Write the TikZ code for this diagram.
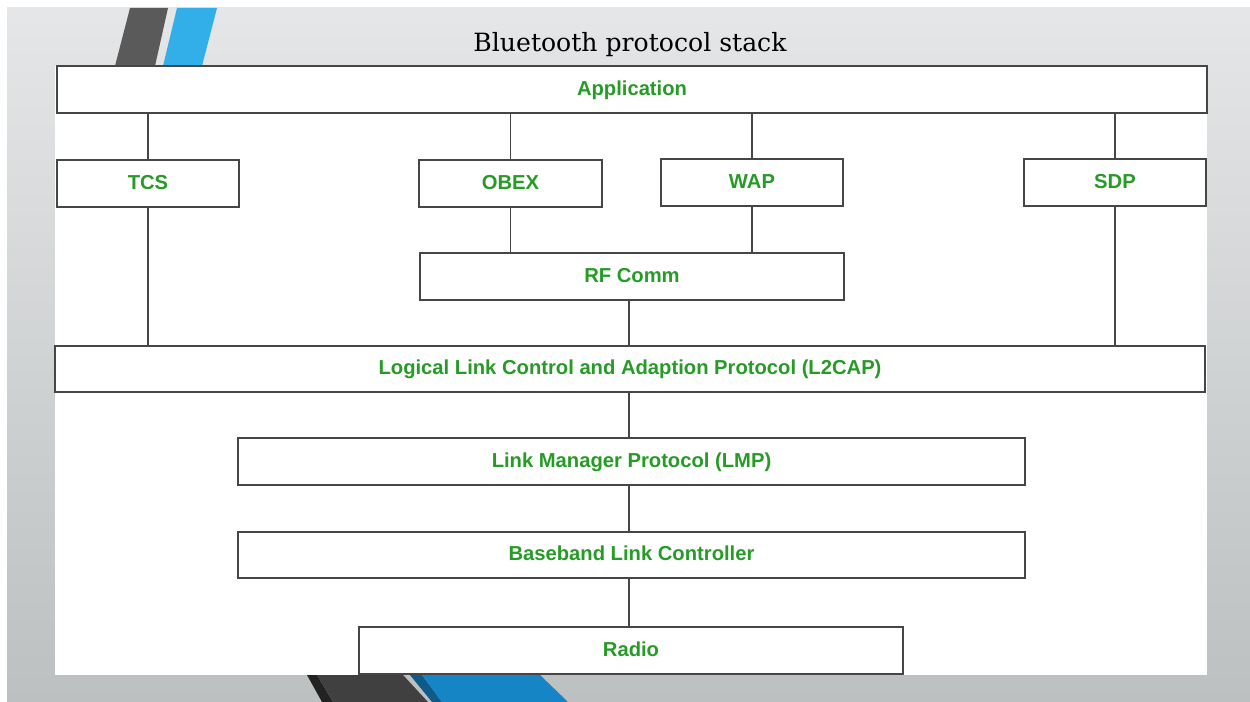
\documentclass[tikz,border=0pt]{standalone}
\usepackage{fontspec}
\newfontfamily\boxfont{Liberation Sans}
\newfontfamily\titlefont{DejaVu Serif}
\definecolor{labelgreen}{RGB}{38,155,38}
\definecolor{edgegray}{RGB}{70,70,70}
\definecolor{slidetop}{RGB}{229,230,231}
\definecolor{slidebottom}{RGB}{188,192,192}
\definecolor{stripedark}{RGB}{90,90,90}
\definecolor{stripeblue}{RGB}{50,174,232}
\definecolor{barblack}{RGB}{34,34,34}
\definecolor{bargray}{RGB}{64,64,64}
\definecolor{bardeepblue}{RGB}{15,90,135}
\definecolor{barblue}{RGB}{22,133,197}
\def\u{0.02cm}
\tikzset{
  layer/.style={draw=edgegray, line width=0.9pt, fill=white, inner sep=0pt, outer sep=0pt,
    font=\boxfont\bfseries\fontsize{11.5}{14}\selectfont, text=labelgreen,
    text height=1.6ex, text depth=0.1ex},
  link/.style={draw=edgegray, line width=0.9pt}
}
\begin{document}
\begin{tikzpicture}[x=0.02cm, y=-0.02cm]
\useasboundingbox (0,0) rectangle (1250,702);
% slide background
\fill[white] (0,0) rectangle (1250,702);
\shade[top color=slidetop, bottom color=slidebottom] (7,8) rectangle (1250,702);
% top-left accent stripes
\fill[stripedark] (130,8) -- (168,8) -- (155,66) -- (115,66) -- cycle;
\fill[stripeblue] (177,8) -- (217,8) -- (202,66) -- (163,66) -- cycle;
% bottom accent bars
\fill[barblack] (307,675) -- (317,675) -- (333,702) -- (322,702) -- cycle;
\fill[bargray] (317,675) -- (403,675) -- (428,702) -- (333,702) -- cycle;
\fill[bardeepblue] (410,675) -- (422,675) -- (442,702) -- (432,702) -- cycle;
\fill[barblue] (422,675) -- (540,675) -- (568,702) -- (442,702) -- cycle;
% content panel
\fill[white] (55,66) rectangle (1207,675);
% title
\node[anchor=base, font=\titlefont\fontsize{14.3}{18}\selectfont] (title) at (630,52) {Bluetooth protocol stack};
% layers
\node[layer, minimum width=1150*\u, minimum height=47*\u] (app) at (632,89.5) {Application};
\node[layer, minimum width=182*\u, minimum height=47*\u] (tcs) at (148,183.5) {TCS};
\node[layer, minimum width=183*\u, minimum height=47*\u] (obex) at (510.5,183.5) {OBEX};
\node[layer, minimum width=182*\u, minimum height=47*\u] (wap) at (752,182.5) {WAP};
\node[layer, minimum width=182*\u, minimum height=47*\u] (sdp) at (1115,182.5) {SDP};
\node[layer, minimum width=424*\u, minimum height=47*\u] (rfc) at (632,276.5) {RF Comm};
\node[layer, minimum width=1150*\u, minimum height=46*\u] (l2cap) at (630,369) {Logical Link Control and Adaption Protocol (L2CAP)};
\node[layer, minimum width=787*\u, minimum height=47*\u] (lmp) at (631.5,461.5) {Link Manager Protocol (LMP)};
\node[layer, minimum width=787*\u, minimum height=46*\u] (bb) at (631.5,555) {Baseband Link Controller};
\node[layer, minimum width=544*\u, minimum height=47*\u] (radio) at (631,650.5) {Radio};
% vertical links
\coordinate (spine) at (629,0);
\draw[link] (tcs.north) -- (tcs.north |- app.south);
\draw[link] (obex.north) -- (obex.north |- app.south);
\draw[link] (wap.north) -- (wap.north |- app.south);
\draw[link] (sdp.north) -- (sdp.north |- app.south);
\draw[link] (tcs.south) -- (tcs.south |- l2cap.north);
\draw[link] (obex.south) -- (obex.south |- rfc.north);
\draw[link] (wap.south) -- (wap.south |- rfc.north);
\draw[link] (sdp.south) -- (sdp.south |- l2cap.north);
\draw[link] (rfc.south -| spine) -- (l2cap.north -| spine);
\draw[link] (l2cap.south -| spine) -- (lmp.north -| spine);
\draw[link] (lmp.south -| spine) -- (bb.north -| spine);
\draw[link] (bb.south -| spine) -- (radio.north -| spine);
\end{tikzpicture}
\end{document}
